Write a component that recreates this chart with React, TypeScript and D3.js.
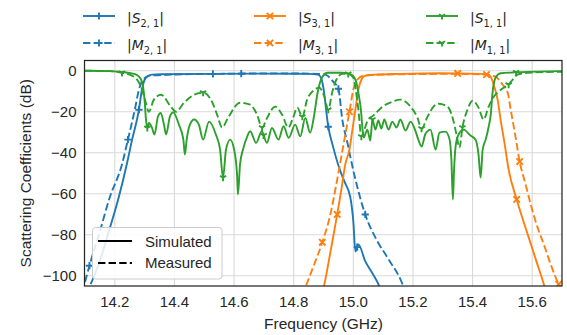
import React from 'react';
import * as d3 from 'd3';

type P = [number, number];

// ---- data: [frequency GHz, dB] ----
const s21: P[] = [
  [14.119, -104.1], [14.146, -94.4], [14.18, -78.3], [14.213, -61.8], [14.24, -45.7], [14.258, -33.6],
  [14.281, -19.0], [14.291, -9.2], [14.304, -3.4], [14.324, -1.9], [14.355, -1.7], [14.516, -1.5],
  [14.7, -1.4], [14.85, -1.5], [14.882, -1.9], [14.892, -3.5], [14.899, -7.8], [14.916, -27.3],
  [14.933, -37.5], [14.95, -46.2], [14.97, -54.0], [14.99, -61.8], [15.0, -73.5], [15.007, -88.1],
  [15.017, -84.7], [15.04, -92.9], [15.064, -98.8], [15.084, -104.1], [15.1, -110],
];
const m21: P[] = [
  [14.1, -103], [14.119, -93], [14.15, -78.3], [14.183, -61.8], [14.224, -45.7], [14.244, -33.6],
  [14.267, -19], [14.281, -9.2], [14.294, -4.4], [14.318, -2.4], [14.385, -1.9], [14.55, -1.5],
  [14.75, -1.3], [14.88, -1.5], [14.906, -1.9], [14.933, -5.4], [14.95, -8.8], [14.963, -23.8],
  [14.98, -35], [14.997, -46.7], [15.04, -70.1], [15.08, -83], [15.114, -91], [15.165, -104.1],
  [15.18, -110],
];
const s31: P[] = [
  [14.897, -108], [14.903, -104.1], [14.923, -88.6], [14.946, -70.1], [14.96, -57.9], [14.973, -45.7],
  [14.987, -38.4], [14.997, -28.7], [15.007, -19], [15.017, -9.2], [15.027, -4.4], [15.04, -2.4],
  [15.074, -1.9], [15.158, -1.5], [15.292, -1.2], [15.427, -1.5], [15.451, -1.9], [15.461, -2.9],
  [15.471, -6.8], [15.484, -14.1], [15.494, -23.8], [15.508, -36], [15.521, -48.2], [15.548, -62.8],
  [15.585, -79.8], [15.612, -92], [15.639, -104.1], [15.649, -109],
];
const m31: P[] = [
  [14.842, -104.6], [14.869, -94.4], [14.896, -83.7], [14.923, -70.1], [14.946, -53], [14.97, -33.6],
  [14.987, -20], [15.0, -9.2], [15.013, -4.4], [15.034, -2.4], [15.091, -1.9], [15.35, -1.5],
  [15.447, -1.9], [15.477, -2.9], [15.501, -6.8], [15.518, -10.7], [15.528, -19], [15.544, -32.1],
  [15.558, -44.3], [15.578, -55.5], [15.595, -65.2], [15.618, -76.4], [15.639, -84.7], [15.662, -94.4],
  [15.689, -104.1], [15.703, -107.5],
];
const s11: P[] = [
  [14.1, 0], [14.183, -0.2], [14.23, -0.7], [14.264, -1.5], [14.281, -2.9], [14.291, -5.4], [14.297, -10.2],
  [14.301, -16.5], [14.304, -22.9], [14.309, -27.9], [14.314, -25.5], [14.325, -27.9], [14.333, -31.1],
  [14.345, -22.2], [14.354, -20.6], [14.365, -26.3], [14.372, -31.1], [14.385, -22.2], [14.396, -20.3],
  [14.415, -26.3], [14.43, -33.6], [14.435, -40.9], [14.441, -33.6], [14.452, -26.3], [14.466, -23.8],
  [14.482, -26.3], [14.496, -33.6], [14.516, -24.8], [14.539, -31.1], [14.553, -38.4], [14.563, -52.1],
  [14.573, -38.4], [14.587, -33.6], [14.6, -38.4], [14.61, -50.6], [14.613, -60.3], [14.62, -45.7],
  [14.63, -38.4], [14.644, -32.1], [14.654, -29.5], [14.674, -35.2], [14.693, -29.5], [14.71, -35.2],
  [14.727, -27.9], [14.749, -33.6], [14.766, -27.1], [14.783, -32.7], [14.805, -26.3], [14.822, -32],
  [14.839, -23], [14.855, -30.2], [14.869, -21.4], [14.879, -11.7], [14.889, -5.4], [14.899, -2.4],
  [14.913, -1.0], [14.956, -1.0], [14.99, -1.7], [15.007, -4.4], [15.017, -10.7], [15.027, -21.4],
  [15.03, -27.3], [15.035, -32.6], [15.047, -28.7], [15.057, -34.1], [15.064, -23.8], [15.074, -28.7],
  [15.084, -24.3], [15.094, -28.2], [15.104, -23.8], [15.118, -28.7], [15.131, -24.8], [15.145, -27.7],
  [15.158, -23.8], [15.175, -29.2], [15.192, -24.8], [15.208, -29.2], [15.218, -33.6], [15.229, -37],
  [15.242, -30.7], [15.259, -28.7], [15.276, -38.4], [15.289, -30.2], [15.309, -29.7], [15.323, -33.6],
  [15.329, -43.3], [15.334, -62.8], [15.338, -48.2], [15.343, -37], [15.353, -31.1], [15.37, -28.7],
  [15.393, -31.6], [15.41, -33.6], [15.42, -40.9], [15.427, -52.1], [15.434, -38.4], [15.444, -33.6],
  [15.454, -27.3], [15.461, -21.4], [15.467, -10.7], [15.477, -3.4], [15.494, -1.2], [15.561, -0.7],
  [15.703, -0.2],
];
const m11: P[] = [
  [14.1, 0], [14.183, -0.2], [14.224, -1.0], [14.264, -2.9], [14.281, -5.8], [14.291, -9.2], [14.304, -15.6],
  [14.314, -20], [14.331, -14.1], [14.355, -11.7], [14.388, -17.5], [14.405, -20], [14.432, -15.6],
  [14.466, -11.7], [14.496, -10.7], [14.526, -15.1], [14.543, -21.4], [14.56, -27.7], [14.58, -22.9],
  [14.62, -15.6], [14.654, -16.5], [14.677, -21.4], [14.694, -27.7], [14.711, -22.9], [14.738, -17.5],
  [14.761, -21.4], [14.782, -27.7], [14.798, -22.9], [14.812, -18], [14.829, -22.4], [14.845, -14.1],
  [14.866, -9.7], [14.886, -8.3], [14.903, -12.7], [14.916, -19], [14.929, -10.7], [14.943, -4.4],
  [14.963, -1.5], [14.983, -1.5], [15.0, -3.4], [15.007, -8.3], [15.017, -19], [15.027, -32.1],
  [15.037, -28.7], [15.05, -23.8], [15.067, -21.9], [15.098, -17.5], [15.131, -15.1], [15.158, -14.1],
  [15.192, -17.5], [15.215, -22.9], [15.229, -28.2], [15.249, -22.4], [15.269, -17.5], [15.286, -16.1],
  [15.316, -17.5], [15.333, -22.9], [15.346, -31.1], [15.356, -37.5], [15.366, -27.7], [15.383, -19],
  [15.4, -14.6], [15.42, -18], [15.437, -23.8], [15.454, -17.5], [15.471, -12.7], [15.487, -10.2],
  [15.504, -8.3], [15.521, -6.8], [15.534, -4.4], [15.551, -1.9], [15.585, -1.0], [15.703, -0.5],
];

// marker frequencies (GHz)
const s21Marks = [14.281, 14.624, 14.916, 15.013];
const m21Marks = [14.115, 14.244, 14.529, 14.95, 15.04];
const s31Marks = [14.946, 15.35, 15.548];
const m31Marks = [14.896, 14.987, 15.447, 15.558, 15.689];
const s11Marks = [14.309, 14.563, 14.699, 15.064, 15.546];
const m11Marks = [14.224, 14.496, 14.694, 14.829, 14.916, 14.983, 15.027, 15.229, 15.366, 15.521];

const xTicks = [14.2, 14.4, 14.6, 14.8, 15.0, 15.2, 15.4, 15.6];
const yTicks = [0, -20, -40, -60, -80, -100];

const BLUE = '#1f77b4';
const ORANGE = '#ff7f0e';
const GREEN = '#2ca02c';
const TEXT = '#262626';
const FONT = '"Liberation Sans", Arial, sans-serif';
const MATHFONT = '"DejaVu Sans", sans-serif';

const L = 85, R = 562, T = 60.5, B = 286;
const x = d3.scaleLinear().domain([14.1, 15.7]).range([L, R]);
const y = d3.scaleLinear().domain([-105, 5]).range([B, T]);

const line = d3.line<P>().x((d) => x(d[0])).y((d) => y(d[1])).curve(d3.curveMonotoneX);

function interp(data: P[], f: number): number {
  for (let i = 0; i < data.length - 1; i++) {
    const a = data[i], b = data[i + 1];
    if (f >= a[0] && f <= b[0]) return a[1] + ((f - a[0]) / (b[0] - a[0])) * (b[1] - a[1]);
  }
  return data[data.length - 1][1];
}

type MK = 'plus' | 'x' | 'tri';
function markerPath(kind: MK, cx: number, cy: number): string {
  const r = 3.6;
  if (kind === 'plus') return `M${cx - r},${cy}H${cx + r}M${cx},${cy - r}V${cy + r}`;
  if (kind === 'x') {
    const q = 3.2;
    return `M${cx - q},${cy - q}L${cx + q},${cy + q}M${cx - q},${cy + q}L${cx + q},${cy - q}`;
  }
  return `M${cx},${cy}L${cx},${cy + r}M${cx},${cy}L${cx - 0.866 * r},${cy - 0.5 * r}M${cx},${cy}L${cx + 0.866 * r},${cy - 0.5 * r}`;
}

const series = [
  { data: s21, marks: s21Marks, color: BLUE, dash: false, mk: 'plus' as MK, sym: 'S', sub: '2, 1' },
  { data: m21, marks: m21Marks, color: BLUE, dash: true, mk: 'plus' as MK, sym: 'M', sub: '2, 1' },
  { data: s31, marks: s31Marks, color: ORANGE, dash: false, mk: 'x' as MK, sym: 'S', sub: '3, 1' },
  { data: m31, marks: m31Marks, color: ORANGE, dash: true, mk: 'x' as MK, sym: 'M', sub: '3, 1' },
  { data: s11, marks: s11Marks, color: GREEN, dash: false, mk: 'tri' as MK, sym: 'S', sub: '1, 1' },
  { data: m11, marks: m11Marks, color: GREEN, dash: true, mk: 'tri' as MK, sym: 'M', sub: '1, 1' },
];

const LW = 1.9;
const DASH = '7.4,3.2';

export default function App() {
  const colHandle = [83, 254, 426];
  const rowY = [16, 43];
  return (
    <svg width={567} height={335} style={{ position: 'absolute', left: 0, top: 0, background: '#fff' }}>
      <defs>
        <clipPath id="plotclip">
          <rect x={L} y={T} width={R - L} height={B - T} />
        </clipPath>
      </defs>
      <rect x={0} y={0} width={567} height={335} fill="#fff" />
      {/* grid */}
      {xTicks.map((t) => (
        <line key={'gx' + t} x1={x(t)} x2={x(t)} y1={T} y2={B} stroke="#d9d9d9" strokeWidth={1.1} />
      ))}
      {yTicks.map((t) => (
        <line key={'gy' + t} x1={L} x2={R} y1={y(t)} y2={y(t)} stroke="#d9d9d9" strokeWidth={1.1} />
      ))}
      {/* series */}
      <g clipPath="url(#plotclip)">
        {series.map((s, i) => (
          <g key={i}>
            <path d={line(s.data) || ''} fill="none" stroke={s.color} strokeWidth={LW}
              strokeDasharray={s.dash ? DASH : undefined} strokeLinejoin="round" />
            {s.marks.map((f, j) => (
              <path key={j} d={markerPath(s.mk, x(f), y(interp(s.data, f)))} stroke={s.color}
                strokeWidth={1.9} fill="none" />
            ))}
          </g>
        ))}
      </g>
      {/* spines */}
      <rect x={L - 0.5} y={T} width={R - L + 0.5} height={B - T} fill="none" stroke={TEXT} strokeWidth={1.25} />
      {/* tick labels */}
      {xTicks.map((t) => (
        <text key={'tx' + t} x={x(t)} y={306.5} textAnchor="middle" fontFamily={FONT} fontSize={15} fill={TEXT}>
          {t.toFixed(1)}
        </text>
      ))}
      {yTicks.map((t) => (
        <text key={'ty' + t} x={76.5} y={y(t) + 5.3} textAnchor="end" fontFamily={FONT} fontSize={15} fill={TEXT}>
          {t < 0 ? '\u2212' + Math.abs(t) : String(t)}
        </text>
      ))}
      <text x={(L + R) / 2} y={329} textAnchor="middle" fontFamily={FONT} fontSize={15.5} fill={TEXT}>
        Frequency (GHz)
      </text>
      <text transform={`translate(31,${(T + B) / 2}) rotate(-90)`} textAnchor="middle" fontFamily={FONT}
        fontSize={15.5} fill={TEXT}>
        Scattering Coefficients (dB)
      </text>
      {/* top legend */}
      {series.map((s, i) => {
        const col = Math.floor(i / 2);
        const row = i % 2;
        const hx = colHandle[col];
        const hy = rowY[row];
        return (
          <g key={'lg' + i}>
            <line x1={hx} x2={hx + 32} y1={hy} y2={hy} stroke={s.color} strokeWidth={LW}
              strokeDasharray={s.dash ? DASH : undefined} />
            <path d={markerPath(s.mk, hx + 16, hy)} stroke={s.color} strokeWidth={1.9} fill="none" />
            <text x={hx + 44} y={hy + 7.3} fontFamily={MATHFONT} fontSize={14} fill={TEXT}>
              <tspan>|</tspan>
              <tspan fontStyle="italic">{s.sym}</tspan>
              <tspan fontSize={9.8} dy={3.2}>{s.sub}</tspan>
              <tspan dy={-3.2}>|</tspan>
            </text>
          </g>
        );
      })}
      {/* style legend */}
      <rect x={92.5} y={227.5} width={129.5} height={51.5} rx={3} fill="#fff" fillOpacity={0.85}
        stroke="#cccccc" strokeWidth={1} />
      <line x1={98} x2={132} y1={241} y2={241} stroke="#000" strokeWidth={2} />
      <line x1={98} x2={132} y1={263} y2={263} stroke="#000" strokeWidth={2} strokeDasharray={DASH} />
      <text x={145} y={246.5} fontFamily={FONT} fontSize={15} fill={TEXT}>Simulated</text>
      <text x={145} y={268.3} fontFamily={FONT} fontSize={15} fill={TEXT}>Measured</text>
    </svg>
  );
}
